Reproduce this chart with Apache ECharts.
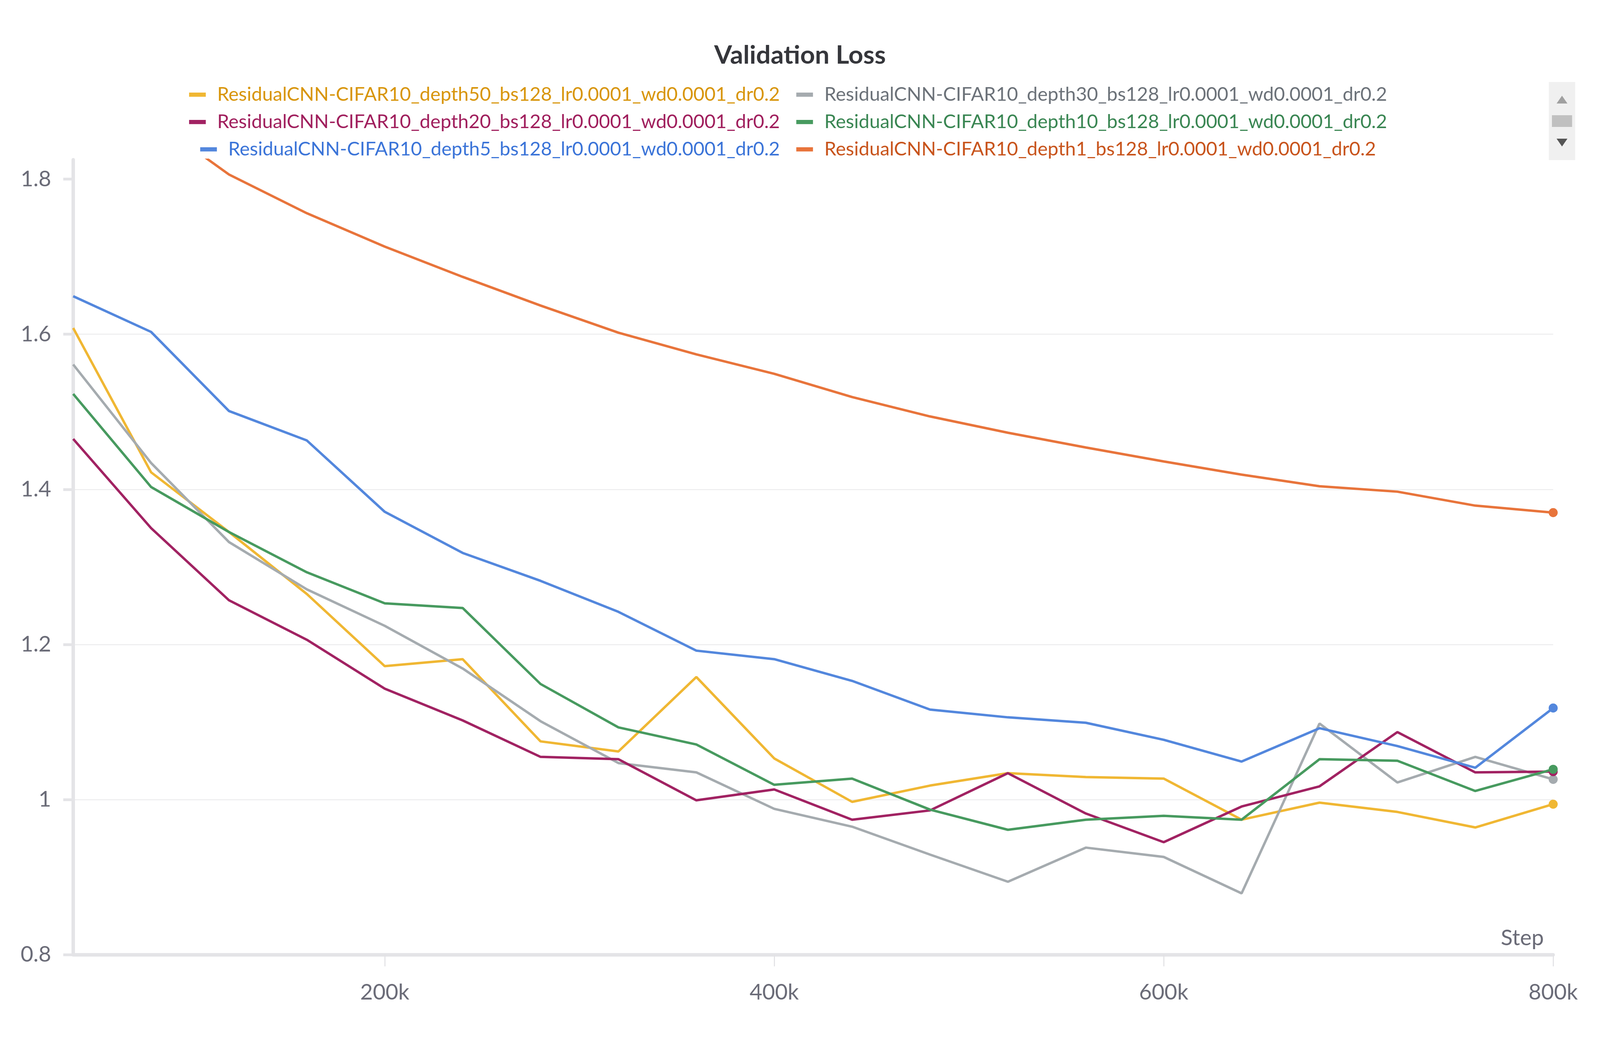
<!DOCTYPE html>
<html>
<head>
<meta charset="utf-8">
<script src="https://cdn.jsdelivr.net/npm/echarts@6/dist/echarts.min.js"></script>
<style>
  html, body { margin: 0; padding: 0; background: #fff; overflow: hidden; }
  #chart { position: absolute; left: 0; top: 0; }
</style>
</head>
<body>
<div id="chart"></div>
<script>
// x values (training steps)
var steps = [40000, 80000, 120000, 160000, 200000, 240000, 280000, 320000, 360000, 400000,
  440000, 480000, 520000, 560000, 600000, 640000, 680000, 720000, 760000, 800000];

// validation loss per run
var depth50 = [1.608, 1.422, 1.345, 1.265, 1.172, 1.181, 1.075, 1.062, 1.158, 1.053,
  0.997, 1.018, 1.034, 1.029, 1.027, 0.974, 0.996, 0.984, 0.964, 0.994];
var depth30 = [1.561, 1.434, 1.332, 1.271, 1.224, 1.169, 1.101, 1.047, 1.035, 0.988,
  0.965, 0.929, 0.894, 0.938, 0.926, 0.879, 1.098, 1.022, 1.055, 1.026];
var depth20 = [1.465, 1.350, 1.257, 1.206, 1.143, 1.102, 1.055, 1.052, 0.999, 1.013,
  0.974, 0.986, 1.034, 0.982, 0.945, 0.991, 1.017, 1.087, 1.035, 1.036];
var depth10 = [1.523, 1.403, 1.345, 1.293, 1.253, 1.247, 1.149, 1.093, 1.071, 1.019,
  1.027, 0.987, 0.961, 0.974, 0.979, 0.974, 1.052, 1.050, 1.011, 1.039];
var depth5 = [1.649, 1.603, 1.501, 1.463, 1.371, 1.318, 1.282, 1.242, 1.192, 1.181,
  1.153, 1.116, 1.106, 1.099, 1.077, 1.049, 1.092, 1.069, 1.041, 1.118];
var depth1 = [1.970, 1.878, 1.806, 1.756, 1.713, 1.674, 1.637, 1.602, 1.574, 1.549,
  1.519, 1.494, 1.473, 1.454, 1.436, 1.419, 1.404, 1.397, 1.379, 1.370];

var yTicks = [0.8, 1.0, 1.2, 1.4, 1.6, 1.8];
var xTicks = [200000, 400000, 600000, 800000];

var suffix = '_bs128_lr0.0001_wd0.0001_dr0.2';
var runs = [
  { name: 'ResidualCNN-CIFAR10_depth50' + suffix, values: depth50, color: '#f0b733', text: '#d8950a' },
  { name: 'ResidualCNN-CIFAR10_depth30' + suffix, values: depth30, color: '#a5abaf', text: '#6c7279' },
  { name: 'ResidualCNN-CIFAR10_depth20' + suffix, values: depth20, color: '#a12262', text: '#a01f5d' },
  { name: 'ResidualCNN-CIFAR10_depth10' + suffix, values: depth10, color: '#479a5f', text: '#3a8653' },
  { name: 'ResidualCNN-CIFAR10_depth5' + suffix, values: depth5, color: '#5387dd', text: '#3b74d8' },
  { name: 'ResidualCNN-CIFAR10_depth1' + suffix, values: depth1, color: '#e8743b', text: '#c8541c' }
];

// layout was measured on a 5160x2660 canvas; scale to the real window
var W = window.innerWidth, H = window.innerHeight;
var kx = W / 5160, ky = H / 2660, ks = Math.sqrt(kx * ky);
function X(v) { return v * kx; }
function Y(v) { return v * ky; }
function F(v) { return v * ks; }

var font = 'Lato';
var axisGray = '#6b6c78';

// legend: two columns, left column right-aligned
var rowMid = [241, 311, 381];
var legends = runs.map(function (r, i) {
  var col = i % 2, row = Math.floor(i / 2);
  var lg = {
    data: [r.name],
    top: Y(rowMid[row]) - F(26),
    padding: 0,
    itemWidth: F(48),
    itemHeight: F(12),
    icon: 'rect',
    selectedMode: false,
    textStyle: { color: r.text, fontSize: F(55), fontFamily: font, padding: [0, 0, 0, F(27)] }
  };
  if (col === 0) lg.right = X(2645); else lg.left = X(2568);
  return lg;
});

var series = runs.map(function (r) {
  var data = r.values.map(function (v, i) {
    if (i === r.values.length - 1) {
      return { value: [steps[i], v], symbol: 'circle', symbolSize: F(26) };
    }
    return [steps[i], v];
  });
  return {
    name: r.name,
    type: 'line',
    data: data,
    symbol: 'none',
    showSymbol: true,
    color: r.color,
    lineStyle: { width: F(7), color: r.color },
    itemStyle: { color: r.color },
    emphasis: { disabled: true }
  };
});

var dom = document.getElementById('chart');
dom.style.width = W + 'px';
dom.style.height = H + 'px';
var chart = echarts.init(dom);
chart.setOption({
  backgroundColor: '#fff',
  animation: false,
  title: {
    text: 'Validation Loss',
    left: 'center',
    top: Y(139) - F(40),
    textStyle: { fontSize: F(74), fontWeight: 'bold', color: '#35363b', fontFamily: font }
  },
  legend: legends,
  grid: { left: X(236), right: X(151), top: Y(409), bottom: Y(216), containLabel: false },
  xAxis: {
    type: 'value',
    min: 40000,
    max: 800000,
    name: 'Step',
    nameLocation: 'end',
    nameGap: -X(30),
    nameTextStyle: { align: 'right', verticalAlign: 'bottom', color: axisGray, fontSize: F(63), fontFamily: font, padding: [0, 0, Y(14), 0] },
    axisLine: { lineStyle: { color: '#e4e4e7', width: F(10) } },
    axisTick: { show: true, length: Y(30), customValues: xTicks, lineStyle: { color: '#e2e2e5', width: F(3) } },
    axisLabel: {
      customValues: xTicks,
      margin: Y(69),
      color: axisGray,
      fontSize: F(63),
      fontFamily: font,
      formatter: function (v) { return (v / 1000) + 'k'; }
    },
    splitLine: { show: false }
  },
  yAxis: {
    type: 'value',
    min: 0.8,
    max: 1.825,
    interval: 0.2,
    axisLine: { show: true, lineStyle: { color: '#e4e4e7', width: F(10) } },
    axisTick: { show: true, length: X(32), customValues: yTicks, lineStyle: { color: '#e4e4e7', width: F(8) } },
    axisLabel: { customValues: yTicks, margin: X(71), color: axisGray, fontSize: F(63), fontFamily: font },
    splitLine: { show: true, showMaxLine: false, lineStyle: { color: '#ececee', width: F(3) } }
  },
  // legend pager box (decoration only)
  graphic: [
    { type: 'rect', shape: { x: X(4995), y: Y(210), width: X(85), height: Y(200) }, style: { fill: '#f0f0f0' }, silent: true },
    { type: 'polygon', shape: { points: [[X(5020), Y(265)], [X(5055), Y(265)], [X(5037.5), Y(245)]] }, style: { fill: '#a0a0a0' }, silent: true },
    { type: 'rect', shape: { x: X(5005), y: Y(295), width: X(65), height: Y(30) }, style: { fill: '#c0c0c0' }, silent: true },
    { type: 'polygon', shape: { points: [[X(5020), Y(355)], [X(5055), Y(355)], [X(5037.5), Y(375)]] }, style: { fill: '#555555' }, silent: true }
  ],
  series: series
});
window.addEventListener('resize', function () { chart.resize(); });
</script>
</body>
</html>
